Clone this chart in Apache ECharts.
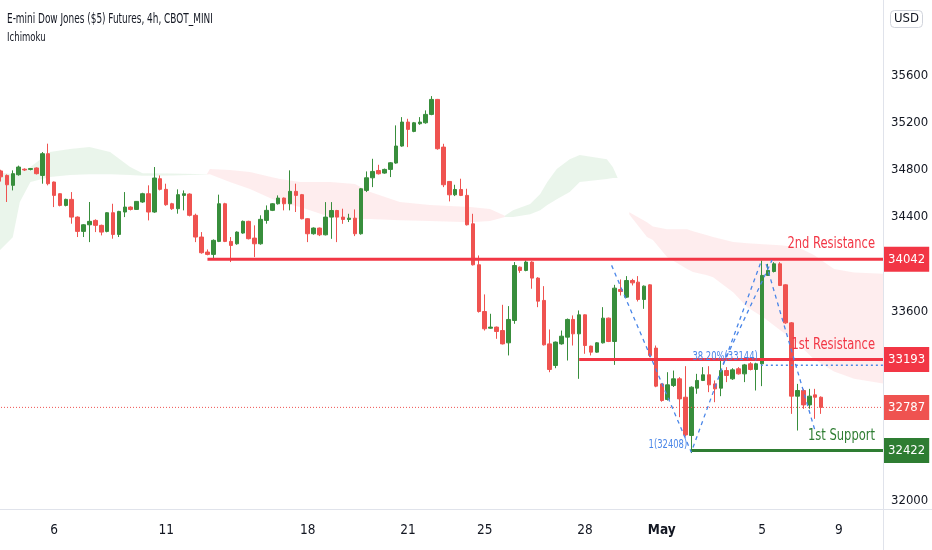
<!DOCTYPE html>
<html>
<head>
<meta charset="utf-8">
<script src="https://cdn.jsdelivr.net/npm/echarts@6/dist/echarts.min.js"></script>
<style>
html,body{margin:0;padding:0;background:#fff;}
#chart{width:932px;height:550px;}
</style>
</head>
<body>
<div id="chart"></div>
<script>
// ---- data ----
// candles: [open, close, low, high], 4h bars
const candles = [
[34790,34740,34700,34800],[34752,34673,34527,34760],[34668,34767,34625,34795],[34758,34823,34750,34835],
[34805,34798,34790,34812],[34803,34810,34795,34815],[34815,34767,34760,34820],[34752,34936,34682,34950],
[34936,34682,34668,35021],[34696,34583,34484,34700],[34597,34498,34490,34600],[34498,34549,34490,34555],
[34549,34399,34343,34611],[34399,34278,34230,34405],[34278,34334,34230,34340],[34334,34363,34187,34527],
[34371,34329,34272,34380],[34329,34272,34244,34335],[34278,34436,34270,34440],[34436,34252,34216,34512],
[34252,34447,34230,34452],[34442,34484,34399,34611],[34484,34464,34455,34490],[34464,34532,34460,34535],
[34527,34597,34520,34605],[34597,34442,34371,34668],[34442,34730,34435,34823],[34724,34634,34625,34752],
[34634,34504,34495,34682],[34512,34470,34460,34520],[34470,34589,34428,34634],[34583,34597,34456,34625],
[34594,34414,34405,34600],[34414,34230,34187,34428],[34230,34097,34089,34272],[34103,34083,34075,34125],
[34083,34202,34046,34210],[34193,34512,34187,34589],[34512,34193,34187,34520],[34193,34159,34018,34230],
[34173,34272,34165,34278],[34264,34363,34258,34370],[34363,34216,34210,34368],[34221,34173,34060,34329],
[34173,34380,34165,34414],[34371,34456,34343,34498],[34456,34512,34450,34518],[34512,34560,34505,34583],
[34560,34512,34456,34565],[34512,34617,34456,34795],[34617,34583,34442,34682],[34589,34385,34380,34595],
[34385,34258,34187,34390],[34258,34306,34250,34312],[34306,34249,34238,34310],[34249,34399,34244,34526],
[34399,34455,34215,34526],[34455,34399,34187,34460],[34399,34379,34342,34470],[34379,34390,34357,34427],
[34390,34258,34238,34464],[34258,34639,34250,34645],[34625,34732,34611,34786],[34732,34786,34653,34893],
[34794,34766,34760,34842],[34772,34803,34766,34810],[34803,34859,34738,34865],[34857,35001,34851,35176],
[35001,35204,34995,35246],[35204,35142,34992,35232],[35125,35198,35118,35205],[35190,35204,35181,35246],
[35198,35269,35190,35303],[35269,35396,35262,35424],[35396,34978,34970,35400],[34992,34673,34653,35020],
[34701,34588,34532,34705],[34588,34633,34577,34673],[34633,34583,34577,34724],[34583,34334,34328,34639],
[34342,33995,33989,34427],[33995,33599,33590,34074],[33599,33453,33438,33744],[33458,33467,33453,33580],
[33467,33430,33368,33472],[33438,33325,33320,33656],[33334,33532,33227,33645],[33523,33989,33495,34018],
[33975,33947,33927,33980],[33947,34018,33940,34032],[34018,33882,33792,34025],[33882,33687,33636,33890],
[33693,33317,33311,33814],[33325,33108,33085,33447],[33142,33340,33119,33345],[33325,33390,33318,33438],
[33382,33532,33184,33540],[33532,33410,33311,33566],[33410,33571,33029,33608],[33571,33311,33241,33575],
[33306,33255,33227,33310],[33255,33334,33250,33340],[33334,33543,33328,33636],[33543,33345,33340,33548],
[33345,33797,33147,33825],[33786,33769,33735,33871],[33721,33862,33715,33899],[33862,33842,33820,33876],
[33848,33701,33684,33899],[33701,33814,33622,33820],[33825,33227,33212,33830],[33289,32967,32958,33311],
[32986,32845,32835,32990],[32854,32978,32845,33085],[32972,33029,32960,33099],[33029,32859,32704,33043],
[32873,32554,32540,33136],[32549,32958,32400,32965],[32950,33015,32902,33071],[33015,33063,33010,33128],
[33063,32978,32916,33136],[32986,32944,32831,33015],[32950,33099,32882,33184],[33099,33057,33001,33128],
[33029,33105,33020,33119],[33114,33071,33065,33128],[33071,33147,33001,33155],[33156,33108,33100,33170],
[33108,33156,32930,33165],[33156,33905,32967,34032],[33905,33947,33900,34003],[33938,34003,33930,34017],
[34003,33820,33815,34017],[33825,33503,33495,33830],[33503,32882,32732,33510],[32882,32930,32591,32986],
[32930,32808,32775,32944],[32808,32882,32775,32944],[32893,32873,32690,32944],[32873,32787,32732,32880]
];
const slotCount = 150;           // bars incl. empty future slots
const tickIndex  = [9, 28, 52, 69, 82, 99, 112, 129, 142];
const tickLabels = ['6','11','18','21','25','28','May','5','9'];
const priceTicks = [35600, 35200, 34800, 34400, 33600, 32000];

// Ichimoku cloud edges: [barIndex, spanA, spanB]
const cloudGreen1 = [[-0.5,34780,34102],[2,34763,34229],[3.2,34780,34526],[5,34823,34696],[8.3,34950,34738],
  [11.7,34975,34755],[15,34992,34763],[18.5,34950,34763],[21.9,34823,34755],[24,34770,34750],[29,34768,34752],[34.9,34762,34760]];
const cloudRed1 = [[34.9,34762,34760],[35.4,34806,34763],[38.8,34797,34696],[42.2,34780,34636],[45.6,34740,34560],
  [47.3,34721,34526],[50.7,34696,34484],[55.8,34696,34399],[60,34679,34382],[62.6,34611,34382],[67.6,34526,34373],
  [72.7,34501,34365],[79.5,34484,34356],[82.9,34467,34365],[85.4,34410,34400]];
const cloudGreen2 = [[85.4,34410,34400],[86.8,34458,34399],[89.7,34509,34424],[91.4,34594,34458],[92.6,34696,34501],
  [94.2,34806,34551],[96.4,34890,34611],[98.1,34924,34696],[102.7,34890,34721],[103.7,34823,34730],[104.5,34735,34730]];
const cloudRed2 = [[106.5,34440,34420],[107.1,34424,34382],[109.5,34356,34230],[110.5,34320,34204],[112.9,34297,34060],
  [116.3,34297,33960],[117.3,34280,33933],[119.7,34246,33907],[120.7,34230,33890],[124.1,34187,33763],[126.5,34178,33636],
  [129.2,34170,33551],[132.1,34160,33441],[135,34145,33330],[137.8,34077,33195],[141.2,33960,33090],[144.6,33930,33030],
  [149.5,33920,32990]];

// levels
const resistance2 = 34042, resistance2Start = 35;
const resistance1 = 33193, resistance1Start = 98;
const support1 = 32422, support1Start = 117;
const lastPrice = 32787;
const fib382 = 33144, fibStart = 128.8;
const fibLow = 32408, fibLowBar = 117;
// zigzag drawing points [barIndex, price]
const zigzagMain = [[103.5,33990],[117,32408],[128.8,34018]];
const zigzagSecond = [[122.4,33153],[130.7,34035]];
const zigzagDown = [[129.7,34001],[137.9,32602]];

// ---- chart ----
const FONT = "'DejaVu Sans Condensed','Liberation Sans Narrow',sans-serif";
const GREEN = '#388e3c', RED = '#ef5350', LINE_RED = '#f23645', SUP_GREEN = '#2e7d32', BLUE = '#4a86e8';
const cats = [];
for (let i = 0; i < slotCount; i++) {
  const k = tickIndex.indexOf(i);
  cats.push(k >= 0 ? tickLabels[k] : '');
}
const lastX = slotCount - 0.5;

// annotation texts anchored at data points
const notes = [
  { at: [lastX, resistance2], text: '2nd Resistance', color: LINE_RED, size: 16, dx: -8, dy: -15, sx: 0.8 },
  { at: [lastX, resistance1], text: '1st Resistance', color: LINE_RED, size: 16, dx: -8, dy: -15, sx: 0.8 },
  { at: [lastX, support1], text: '1st Support', color: SUP_GREEN, size: 16, dx: -8, dy: -15, sx: 0.8 },
  { at: [fibStart, fib382], text: '38.20%(' + fib382 + ')', color: BLUE, size: 12, dx: -3, dy: -8, sx: 0.78 },
  { at: [fibLowBar, fibLow], text: '1(' + fibLow + ')', color: BLUE, size: 12, dx: -4, dy: -7, sx: 0.78 }
];

function cloudSeries(pts, color) {
  return {
    type: 'custom', xAxisIndex: 1, yAxisIndex: 0, z: 1, silent: true,
    data: pts,
    renderItem: function (params, api) {
      if (params.dataIndex !== 0) return null;
      const poly = [];
      pts.forEach(p => poly.push(api.coord([p[0], p[1]])));
      for (let i = pts.length - 1; i >= 0; i--) poly.push(api.coord([pts[i][0], pts[i][2]]));
      return { type: 'polygon', shape: { points: poly }, style: { fill: color } };
    }
  };
}

function levelSeries(start, price, color, boxColor, lineType, width) {
  return {
    type: 'line', xAxisIndex: 1, yAxisIndex: 0, z: 5, silent: true,
    symbol: 'none',
    lineStyle: { color: color, width: width, type: lineType },
    data: [[start, price], [lastX, price]],
    endLabel: {
      show: true, formatter: String(price), backgroundColor: boxColor, color: '#ffffff',
      padding: [4, 4], fontSize: 13, lineHeight: 17, fontFamily: FONT, distance: 1
    }
  };
}

function dashSeries(pts) {
  return {
    type: 'line', xAxisIndex: 1, yAxisIndex: 0, z: 6, silent: true,
    symbol: 'none',
    lineStyle: { color: BLUE, width: 1.3, type: [4, 4] },
    data: pts
  };
}

const chart = echarts.init(document.getElementById('chart'), null, { renderer: 'canvas' });
chart.setOption({
  animation: false,
  backgroundColor: '#ffffff',
  textStyle: { fontFamily: FONT },
  title: [
    { text: 'USD', right: 9, top: 10, padding: [2, 4], borderColor: '#d1d4dc', borderWidth: 1, borderRadius: 4,
      textStyle: { fontSize: 13, fontWeight: 'normal', color: '#131722', fontFamily: FONT, lineHeight: 14 } }
  ],
  grid: [
    { left: -2, right: 49, top: 4.5, height: 543, outerBoundsMode: 'none', containLabel: false },
    { left: -2, right: 49, top: 509, height: 1, outerBoundsMode: 'none', containLabel: false }
  ],
  xAxis: [
    { type: 'category', gridIndex: 0, data: cats, boundaryGap: true, show: false },
    { type: 'value', gridIndex: 0, min: -0.5, max: lastX, show: false },
    { type: 'category', gridIndex: 1, data: cats, boundaryGap: true,
      axisLine: { show: false }, axisTick: { show: false }, splitLine: { show: false },
      axisLabel: { interval: 0, margin: 13, fontSize: 13.5, color: '#131722', fontFamily: FONT,
        formatter: v => v === 'May' ? '{b|May}' : v,
        rich: { b: { fontWeight: 'bold', fontSize: 13.5, color: '#131722', fontFamily: FONT } } } }
  ],
  yAxis: [
    { type: 'value', gridIndex: 0, position: 'right', min: 31600, max: 36200, interval: 400,
      splitLine: { show: false }, axisLine: { show: false }, axisTick: { show: false },
      axisLabel: { margin: 8, fontSize: 13, color: '#131722', fontFamily: FONT, showMaxLabel: false,
        formatter: v => priceTicks.indexOf(v) >= 0 ? String(v) : '' } },
    { type: 'value', gridIndex: 1, show: false }
  ],
  graphic: [
    { type: 'text', x: 7, y: 12, scaleX: 0.735, z: 100,
      style: { text: 'E-mini Dow Jones ($5) Futures, 4h, CBOT_MINI', fill: '#131722', font: '13.5px ' + FONT } },
    { type: 'text', x: 7, y: 31, scaleX: 0.76, z: 100,
      style: { text: 'Ichimoku', fill: '#131722', font: '12.5px ' + FONT } },
    { type: 'line', z: 100, shape: { x1: 883.5, y1: 0, x2: 883.5, y2: 550 }, style: { stroke: '#e0e3eb', lineWidth: 1 } },
    { type: 'line', z: 100, shape: { x1: 0, y1: 509.5, x2: 932, y2: 509.5 }, style: { stroke: '#e0e3eb', lineWidth: 1 } }
  ],
  series: [
    cloudSeries(cloudGreen1, 'rgba(67,160,71,0.11)'),
    cloudSeries(cloudRed1, 'rgba(242,54,69,0.09)'),
    cloudSeries(cloudGreen2, 'rgba(67,160,71,0.11)'),
    cloudSeries(cloudRed2, 'rgba(242,54,69,0.09)'),
    {
      type: 'candlestick', xAxisIndex: 0, yAxisIndex: 0, z: 3, barWidth: 4, silent: true,
      itemStyle: { color: GREEN, color0: RED, borderColor: GREEN, borderColor0: RED, borderWidth: 1 },
      data: candles
    },
    levelSeries(-0.5, lastPrice, RED, RED, [1, 2], 1),
    levelSeries(resistance2Start, resistance2, LINE_RED, LINE_RED, 'solid', 3),
    levelSeries(resistance1Start, resistance1, LINE_RED, LINE_RED, 'solid', 3),
    levelSeries(support1Start, support1, SUP_GREEN, SUP_GREEN, 'solid', 3),
    {
      type: 'line', xAxisIndex: 1, yAxisIndex: 0, z: 6, silent: true, symbol: 'none',
      lineStyle: { color: BLUE, width: 1.5, type: [2, 3] },
      data: [[fibStart, fib382], [lastX, fib382]]
    },
    dashSeries(zigzagMain),
    dashSeries(zigzagSecond),
    dashSeries(zigzagDown),
    {
      type: 'custom', xAxisIndex: 1, yAxisIndex: 0, z: 8, silent: true,
      data: notes.map(n => n.at),
      renderItem: function (params, api) {
        const n = notes[params.dataIndex];
        const p = api.coord(n.at);
        return { type: 'text', x: p[0] + n.dx, y: p[1] + n.dy, scaleX: n.sx,
          style: { text: n.text, fill: n.color, font: n.size + 'px ' + FONT, align: 'right', verticalAlign: 'middle' } };
      }
    }
  ]
});
</script>
</body>
</html>
